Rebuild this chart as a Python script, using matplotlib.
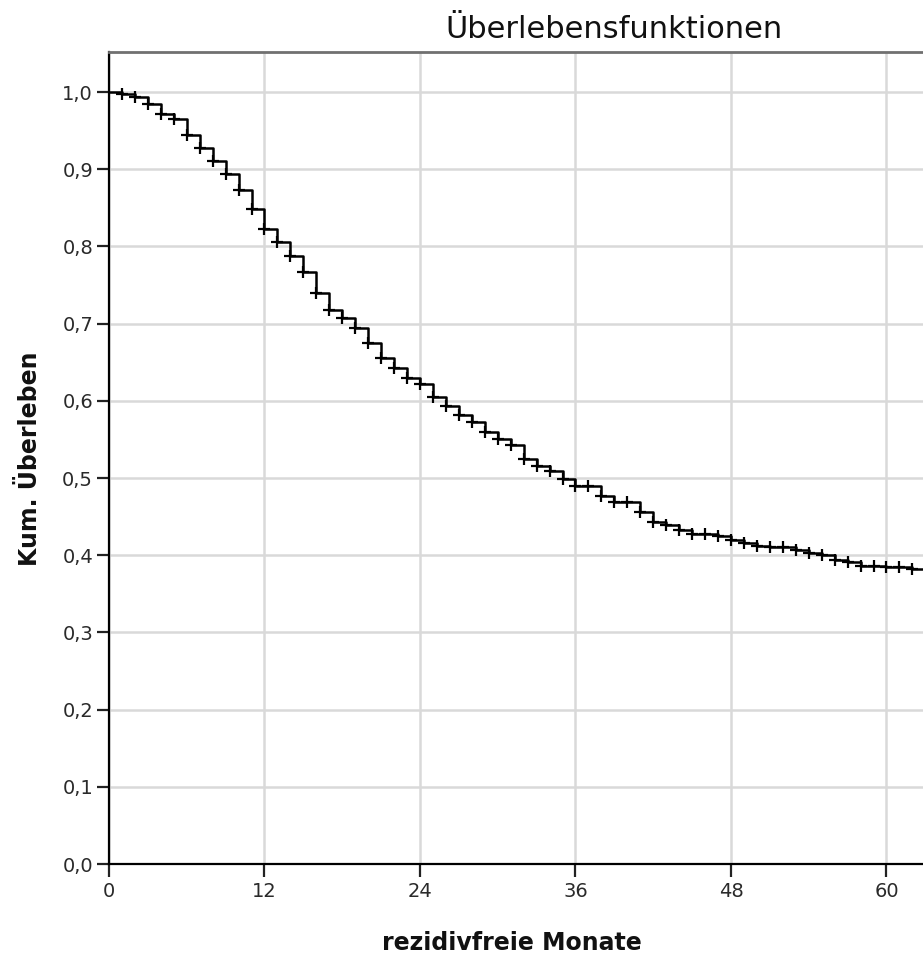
import numpy as np
import matplotlib
matplotlib.use("Agg")
import matplotlib.pyplot as plt

# Kaplan-Meier-Schätzung (rezidivfreies Überleben)
event_months = [1, 2, 3, 4, 5, 6, 7, 8, 9, 10, 11, 12, 13, 14, 15, 16, 17, 18, 19, 20,
                21, 22, 23, 24, 25, 26, 27, 28, 29, 30, 31, 32, 33, 34, 35, 36, 38, 39, 41, 42,
                43, 44, 45, 47, 48, 49, 50, 51, 53, 54, 55, 56, 57, 58, 60, 62]
surv = [0.998, 0.993, 0.985, 0.972, 0.965, 0.944, 0.927, 0.910, 0.894, 0.873,
        0.848, 0.823, 0.806, 0.788, 0.767, 0.739, 0.718, 0.707, 0.694, 0.675,
        0.656, 0.642, 0.630, 0.622, 0.605, 0.593, 0.582, 0.572, 0.560, 0.550,
        0.543, 0.525, 0.516, 0.509, 0.499, 0.490, 0.477, 0.469, 0.456, 0.443,
        0.439, 0.433, 0.427, 0.425, 0.420, 0.416, 0.412, 0.411, 0.407, 0.403,
        0.400, 0.394, 0.391, 0.386, 0.385, 0.3815]
# zensierte Fälle
censored_months = [1, 2, 3, 4, 5, 6, 7, 8, 9, 10, 11, 12, 13, 14, 15, 16, 17, 18, 19, 20,
                   21, 22, 23, 24, 25, 26, 27, 28, 29, 30, 31, 32, 33, 34, 35, 36, 37, 38, 39, 40,
                   41, 42, 43, 44, 45, 46, 47, 48, 49, 50, 51, 52, 53, 54, 55, 56, 57, 58, 59, 60,
                   61, 62]

x_ticks = [0, 12, 24, 36, 48, 60]
y_ticks = [0.0, 0.1, 0.2, 0.3, 0.4, 0.5, 0.6, 0.7, 0.8, 0.9, 1.0]

W, H = 923, 956
fig = plt.figure(figsize=(W / 100, H / 100), dpi=100)
plt.rcParams['font.family'] = ['DejaVu Sans']

x_max = 66
ax = fig.add_axes([109 / W, (H - 864) / H, x_max * 12.958 / W, (864 - 52) / H])
ax.set_xlim(0, x_max)
ax.set_ylim(0, 812 / 772)

# Stufenfunktion
t = np.array([0] + event_months + [x_max])
s = np.array([1.0] + surv + [surv[-1]])
ax.step(t, s, where='post', color='black', lw=1.8, zorder=3)

# Zensierungsmarken auf der Kurve
idx = np.searchsorted(t, censored_months, side='right') - 1
ax.plot(censored_months, s[idx], linestyle='none', marker='+', color='black',
        markersize=8, markeredgewidth=1.6, zorder=4)

ax.set_xticks(x_ticks)
ax.set_yticks(y_ticks)
ax.set_yticklabels([f"{v:.1f}".replace('.', ',') for v in y_ticks])
ax.tick_params(axis='both', direction='out', length=9, width=1.6, color='#222222',
               labelsize=14, labelcolor='#2a2a2a')
ax.tick_params(axis='y', pad=2.5)
ax.tick_params(axis='x', pad=4)
ax.grid(True, color='#d9d9d9', lw=1.8, zorder=0)
ax.set_axisbelow(True)

ax.spines['right'].set_visible(False)
ax.spines['top'].set_color('#707070')
ax.spines['top'].set_linewidth(2)
for side in ['left', 'bottom']:
    ax.spines[side].set_color('black')
    ax.spines[side].set_linewidth(1.6)

fig.text(614 / W, 1 - 38 / H, 'Überlebensfunktionen', ha='center', va='baseline',
         fontsize=22, color='#111111')
fig.text(512 / W, 1 - 950 / H, 'rezidivfreie Monate', ha='center', va='baseline',
         fontsize=17, fontweight='bold', color='#111111')
fig.text(30 / W, 1 - 459 / H, 'Kum. Überleben', ha='center', va='center', rotation=90,
         fontsize=17, fontweight='bold', color='#111111')

fig.savefig('out.png', dpi=100)
